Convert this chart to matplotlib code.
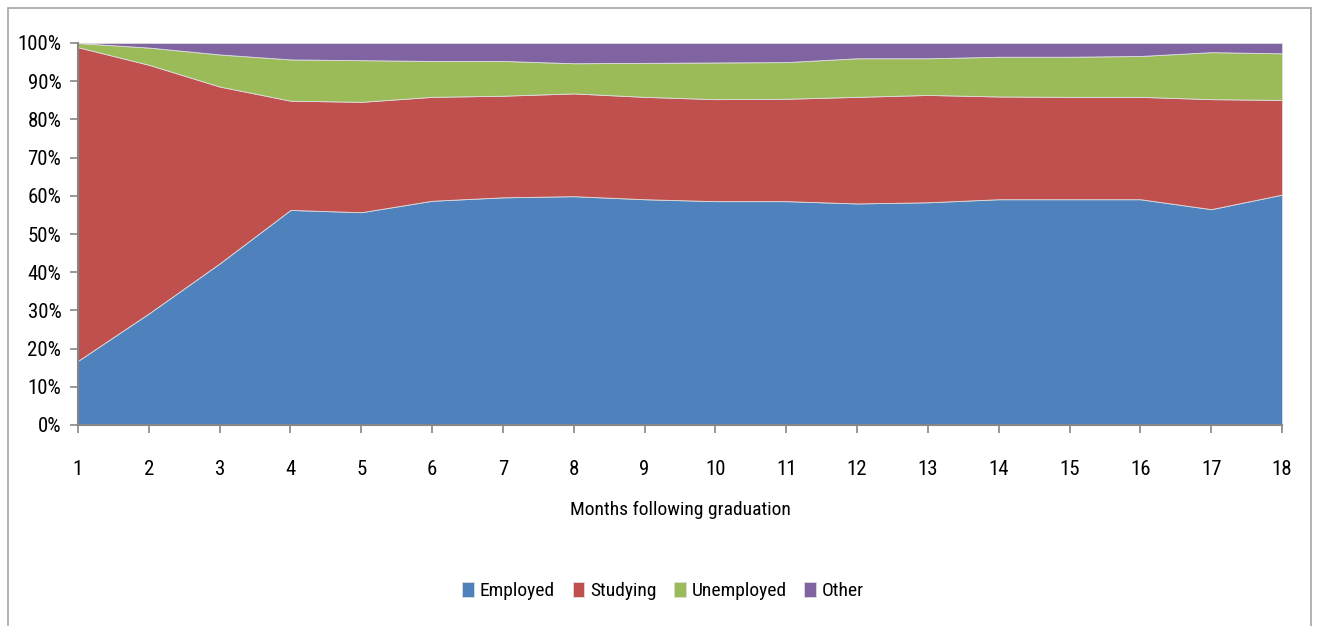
"""
Graduate destinations by month after graduation (stacked area)
"""

import matplotlib.pyplot as plt
from matplotlib.patches import Rectangle
from matplotlib import font_manager

months = list(range(1, 19))

employed = [16.8, 29.2, 42.3, 56.3, 55.7, 58.7, 59.6, 59.9, 59.1,
            58.6, 58.6, 58.0, 58.3, 59.1, 59.1, 59.1, 56.5, 60.3]
studying = [82.1, 65.1, 46.3, 28.6, 28.9, 27.2, 26.6, 26.9, 26.8,
            26.7, 26.8, 27.9, 28.1, 26.9, 26.8, 26.8, 28.8, 24.8]
unemployed = [1.1, 4.5, 8.4, 10.8, 10.9, 9.4, 9.1, 7.9, 8.9,
              9.6, 9.6, 10.1, 9.6, 10.4, 10.5, 10.7, 12.3, 12.2]
other = [0.0, 1.2, 3.0, 4.3, 4.5, 4.7, 4.7, 5.3, 5.2,
         5.1, 5.0, 4.0, 4.0, 3.6, 3.6, 3.4, 2.4, 2.7]

labels = ["Employed", "Studying", "Unemployed", "Other"]
colors = ["#4f81bd", "#c0504d", "#9bbb59", "#8064a2"]

# pick a narrow face if one is around
names = {f.name for f in font_manager.fontManager.ttflist}
narrow = [n for n in ["Liberation Sans Narrow", "Roboto Condensed",
                      "Open Sans Condensed", "DejaVu Sans Condensed"]
          if n in names]
plt.rcParams["font.family"] = narrow[:1] + ["DejaVu Sans"]
plt.rcParams["font.stretch"] = "condensed"

fig = plt.figure(figsize=(13.19, 6.26), dpi=100)
fig.patches.append(Rectangle((8 / 1319, -0.01), 1303 / 1319, 1 - 8 / 626 + 0.01,
                             transform=fig.transFigure, fill=False,
                             edgecolor="#a6a6a6", linewidth=1.2))

ax = fig.add_axes([78 / 1319, 201 / 626, 1204 / 1319, 382 / 626])

ax.stackplot(months, employed, studying, unemployed, other,
             labels=labels, colors=colors, linewidth=0.6,
             edgecolor="#dddddd")

ax.set_xlim(1, 18)
ax.set_ylim(0, 100)
ax.set_xticks(months)
ax.set_yticks(range(0, 101, 10))
ax.set_yticklabels([f"{v}%" for v in range(0, 101, 10)])

for side in ["top", "right"]:
    ax.spines[side].set_visible(False)
for side in ["left", "bottom"]:
    ax.spines[side].set_color("#868686")
    ax.spines[side].set_linewidth(1.5)

ax.tick_params(axis="both", colors="#868686", labelcolor="black",
               labelsize=15, length=6, width=1.2)
ax.tick_params(axis="y", pad=6)
ax.tick_params(axis="x", pad=19)

ax.set_xlabel("Months following graduation", fontsize=14, labelpad=16)

ax.legend(loc="center", bbox_to_anchor=(0.486, -0.435), ncol=4, frameon=False,
          fontsize=14, handlelength=0.6, handleheight=0.8,
          handletextpad=0.3, columnspacing=0.9)

plt.savefig("out.png", dpi=100)
plt.close()
